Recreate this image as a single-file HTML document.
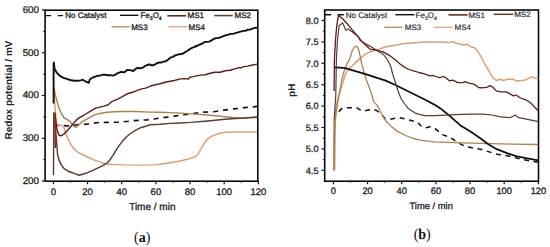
<!DOCTYPE html>
<html><head><meta charset="utf-8"><style>
html,body{margin:0;padding:0;background:#fff;width:550px;height:247px;overflow:hidden}
svg{display:block;text-rendering:geometricPrecision}
.t{stroke:#222;stroke-width:0.3px;paint-order:stroke}
.t2{stroke:#222;stroke-width:0.15px;paint-order:stroke}

</style></head><body>
<svg width="550" height="247" viewBox="0 0 550 247">
<defs>
<clipPath id="ca"><rect x="45" y="10.3" width="212.8" height="170.7"/></clipPath>
<clipPath id="cb"><rect x="324.8" y="10.3" width="213.8" height="170.7"/></clipPath>
</defs>
<rect width="550" height="247" fill="#fff"/>
<rect x="45.1" y="10.2" width="212.70" height="171.00" fill="none" stroke="#0a0a0a" stroke-width="1.6"/>
<line x1="41.9" y1="10.0" x2="45.1" y2="10.0" stroke="#111" stroke-width="1.2"/>
<line x1="41.9" y1="52.75" x2="45.1" y2="52.75" stroke="#111" stroke-width="1.2"/>
<line x1="41.9" y1="95.5" x2="45.1" y2="95.5" stroke="#111" stroke-width="1.2"/>
<line x1="41.9" y1="138.25" x2="45.1" y2="138.25" stroke="#111" stroke-width="1.2"/>
<line x1="41.9" y1="181.0" x2="45.1" y2="181.0" stroke="#111" stroke-width="1.2"/>
<line x1="43.300000000000004" y1="31.375" x2="45.1" y2="31.375" stroke="#111" stroke-width="1.1"/>
<line x1="43.300000000000004" y1="74.125" x2="45.1" y2="74.125" stroke="#111" stroke-width="1.1"/>
<line x1="43.300000000000004" y1="116.875" x2="45.1" y2="116.875" stroke="#111" stroke-width="1.1"/>
<line x1="43.300000000000004" y1="159.625" x2="45.1" y2="159.625" stroke="#111" stroke-width="1.1"/>
<line x1="53.4" y1="181.2" x2="53.4" y2="184.2" stroke="#111" stroke-width="1.2"/>
<line x1="87.56" y1="181.2" x2="87.56" y2="184.2" stroke="#111" stroke-width="1.2"/>
<line x1="121.72" y1="181.2" x2="121.72" y2="184.2" stroke="#111" stroke-width="1.2"/>
<line x1="155.88" y1="181.2" x2="155.88" y2="184.2" stroke="#111" stroke-width="1.2"/>
<line x1="190.04" y1="181.2" x2="190.04" y2="184.2" stroke="#111" stroke-width="1.2"/>
<line x1="224.2" y1="181.2" x2="224.2" y2="184.2" stroke="#111" stroke-width="1.2"/>
<line x1="258.36" y1="181.2" x2="258.36" y2="184.2" stroke="#111" stroke-width="1.2"/>
<line x1="70.47999999999999" y1="181.2" x2="70.47999999999999" y2="182.79999999999998" stroke="#222" stroke-width="0.9"/>
<line x1="104.64" y1="181.2" x2="104.64" y2="182.79999999999998" stroke="#222" stroke-width="0.9"/>
<line x1="138.79999999999998" y1="181.2" x2="138.79999999999998" y2="182.79999999999998" stroke="#222" stroke-width="0.9"/>
<line x1="172.96" y1="181.2" x2="172.96" y2="182.79999999999998" stroke="#222" stroke-width="0.9"/>
<line x1="207.12" y1="181.2" x2="207.12" y2="182.79999999999998" stroke="#222" stroke-width="0.9"/>
<line x1="241.28" y1="181.2" x2="241.28" y2="182.79999999999998" stroke="#222" stroke-width="0.9"/>
<rect x="324.7" y="10.0" width="213.80" height="171.20" fill="none" stroke="#0a0a0a" stroke-width="1.6"/>
<line x1="321.5" y1="20.5" x2="324.7" y2="20.5" stroke="#111" stroke-width="1.2"/>
<line x1="321.5" y1="41.9" x2="324.7" y2="41.9" stroke="#111" stroke-width="1.2"/>
<line x1="321.5" y1="63.3" x2="324.7" y2="63.3" stroke="#111" stroke-width="1.2"/>
<line x1="321.5" y1="84.69999999999999" x2="324.7" y2="84.69999999999999" stroke="#111" stroke-width="1.2"/>
<line x1="321.5" y1="106.1" x2="324.7" y2="106.1" stroke="#111" stroke-width="1.2"/>
<line x1="321.5" y1="127.5" x2="324.7" y2="127.5" stroke="#111" stroke-width="1.2"/>
<line x1="321.5" y1="148.89999999999998" x2="324.7" y2="148.89999999999998" stroke="#111" stroke-width="1.2"/>
<line x1="321.5" y1="170.29999999999998" x2="324.7" y2="170.29999999999998" stroke="#111" stroke-width="1.2"/>
<line x1="322.9" y1="31.2" x2="324.7" y2="31.2" stroke="#111" stroke-width="1.1"/>
<line x1="322.9" y1="52.599999999999994" x2="324.7" y2="52.599999999999994" stroke="#111" stroke-width="1.1"/>
<line x1="322.9" y1="74.0" x2="324.7" y2="74.0" stroke="#111" stroke-width="1.1"/>
<line x1="322.9" y1="95.39999999999999" x2="324.7" y2="95.39999999999999" stroke="#111" stroke-width="1.1"/>
<line x1="322.9" y1="116.8" x2="324.7" y2="116.8" stroke="#111" stroke-width="1.1"/>
<line x1="322.9" y1="138.2" x2="324.7" y2="138.2" stroke="#111" stroke-width="1.1"/>
<line x1="322.9" y1="159.6" x2="324.7" y2="159.6" stroke="#111" stroke-width="1.1"/>
<line x1="333.4" y1="181.2" x2="333.4" y2="184.2" stroke="#111" stroke-width="1.2"/>
<line x1="367.55999999999995" y1="181.2" x2="367.55999999999995" y2="184.2" stroke="#111" stroke-width="1.2"/>
<line x1="401.71999999999997" y1="181.2" x2="401.71999999999997" y2="184.2" stroke="#111" stroke-width="1.2"/>
<line x1="435.88" y1="181.2" x2="435.88" y2="184.2" stroke="#111" stroke-width="1.2"/>
<line x1="470.03999999999996" y1="181.2" x2="470.03999999999996" y2="184.2" stroke="#111" stroke-width="1.2"/>
<line x1="504.19999999999993" y1="181.2" x2="504.19999999999993" y2="184.2" stroke="#111" stroke-width="1.2"/>
<line x1="538.36" y1="181.2" x2="538.36" y2="184.2" stroke="#111" stroke-width="1.2"/>
<line x1="350.47999999999996" y1="181.2" x2="350.47999999999996" y2="182.79999999999998" stroke="#222" stroke-width="0.9"/>
<line x1="384.64" y1="181.2" x2="384.64" y2="182.79999999999998" stroke="#222" stroke-width="0.9"/>
<line x1="418.79999999999995" y1="181.2" x2="418.79999999999995" y2="182.79999999999998" stroke="#222" stroke-width="0.9"/>
<line x1="452.96" y1="181.2" x2="452.96" y2="182.79999999999998" stroke="#222" stroke-width="0.9"/>
<line x1="487.12" y1="181.2" x2="487.12" y2="182.79999999999998" stroke="#222" stroke-width="0.9"/>
<line x1="521.28" y1="181.2" x2="521.28" y2="182.79999999999998" stroke="#222" stroke-width="0.9"/>
<text x="39" y="12.9" class="t" font-family="Liberation Sans" font-size="9.8" text-anchor="end" fill="#222">600</text>
<text x="39" y="55.6" class="t" font-family="Liberation Sans" font-size="9.8" text-anchor="end" fill="#222">500</text>
<text x="39" y="98.4" class="t" font-family="Liberation Sans" font-size="9.8" text-anchor="end" fill="#222">400</text>
<text x="39" y="141.2" class="t" font-family="Liberation Sans" font-size="9.8" text-anchor="end" fill="#222">300</text>
<text x="39" y="183.9" class="t" font-family="Liberation Sans" font-size="9.8" text-anchor="end" fill="#222">200</text>
<text x="318.5" y="23.8" class="t" font-family="Liberation Sans" font-size="9.2" text-anchor="end" fill="#222">8.0</text>
<text x="318.5" y="45.2" class="t" font-family="Liberation Sans" font-size="9.2" text-anchor="end" fill="#222">7.5</text>
<text x="318.5" y="66.6" class="t" font-family="Liberation Sans" font-size="9.2" text-anchor="end" fill="#222">7.0</text>
<text x="318.5" y="88.0" class="t" font-family="Liberation Sans" font-size="9.2" text-anchor="end" fill="#222">6.5</text>
<text x="318.5" y="109.4" class="t" font-family="Liberation Sans" font-size="9.2" text-anchor="end" fill="#222">6.0</text>
<text x="318.5" y="130.8" class="t" font-family="Liberation Sans" font-size="9.2" text-anchor="end" fill="#222">5.5</text>
<text x="318.5" y="152.2" class="t" font-family="Liberation Sans" font-size="9.2" text-anchor="end" fill="#222">5.0</text>
<text x="318.5" y="173.6" class="t" font-family="Liberation Sans" font-size="9.2" text-anchor="end" fill="#222">4.5</text>
<text x="53.4" y="194.5" class="t" font-family="Liberation Sans" font-size="9.5" text-anchor="middle" fill="#222">0</text>
<text x="87.6" y="194.5" class="t" font-family="Liberation Sans" font-size="9.5" text-anchor="middle" fill="#222">20</text>
<text x="121.7" y="194.5" class="t" font-family="Liberation Sans" font-size="9.5" text-anchor="middle" fill="#222">40</text>
<text x="155.9" y="194.5" class="t" font-family="Liberation Sans" font-size="9.5" text-anchor="middle" fill="#222">60</text>
<text x="190.0" y="194.5" class="t" font-family="Liberation Sans" font-size="9.5" text-anchor="middle" fill="#222">80</text>
<text x="224.2" y="194.5" class="t" font-family="Liberation Sans" font-size="9.5" text-anchor="middle" fill="#222">100</text>
<text x="258.4" y="194.5" class="t" font-family="Liberation Sans" font-size="9.5" text-anchor="middle" fill="#222">120</text>
<text x="333.4" y="193.8" class="t" font-family="Liberation Sans" font-size="9.3" text-anchor="middle" fill="#222">0</text>
<text x="367.6" y="193.8" class="t" font-family="Liberation Sans" font-size="9.3" text-anchor="middle" fill="#222">20</text>
<text x="401.7" y="193.8" class="t" font-family="Liberation Sans" font-size="9.3" text-anchor="middle" fill="#222">40</text>
<text x="435.9" y="193.8" class="t" font-family="Liberation Sans" font-size="9.3" text-anchor="middle" fill="#222">60</text>
<text x="470.0" y="193.8" class="t" font-family="Liberation Sans" font-size="9.3" text-anchor="middle" fill="#222">80</text>
<text x="504.2" y="193.8" class="t" font-family="Liberation Sans" font-size="9.3" text-anchor="middle" fill="#222">100</text>
<text x="538.4" y="193.8" class="t" font-family="Liberation Sans" font-size="9.3" text-anchor="middle" fill="#222">120</text>
<text x="152.3" y="209.8" class="t" font-family="Liberation Sans" font-size="10" text-anchor="middle" fill="#222">Time / min</text>
<text x="431.2" y="209.2" class="t" font-family="Liberation Sans" font-size="9.4" text-anchor="middle" fill="#222">Time / min</text>
<text transform="translate(11.5,90) rotate(-90)" font-family="Liberation Sans" font-size="10" font-weight="bold" text-anchor="middle" fill="#222">Redox potential / mV</text>
<text transform="translate(295.2,90.3) rotate(-90)" font-family="Liberation Sans" font-size="10" font-weight="bold" text-anchor="middle" fill="#222">pH</text>
<text transform="translate(142.2,241.7) scale(1,1.08)" font-family="Liberation Serif" font-size="14" font-weight="bold" text-anchor="middle" fill="#111"><tspan font-weight="normal">(</tspan>a<tspan font-weight="normal">)</tspan></text>
<text transform="translate(422.2,239.1) scale(1,1.08)" font-family="Liberation Serif" font-size="14" font-weight="bold" text-anchor="middle" fill="#111"><tspan font-weight="normal">(</tspan>b<tspan font-weight="normal">)</tspan></text>
<g clip-path="url(#ca)">
<polyline points="54.0,125.5 60.0,125.3 68.2,126.0 77.4,124.7 86.5,124.2 96.6,122.7 106.0,122.4 118.0,122.2 128.0,121.3 134.0,120.6 146.6,119.9 155.6,118.7 165.2,117.4 174.8,116.1 183.9,114.8 194.1,113.3 203.7,112.1 214.0,111.7 224.0,110.1 234.4,108.9 244.8,107.6 257.3,106.4" fill="none" stroke="#111" stroke-width="1.6" stroke-linejoin="round" stroke-dasharray="5.1 4.9"/>
<polyline points="53.9,88.0 54.8,105.0 56.0,118.0 57.0,124.0 58.1,125.2 62.2,125.2 64.2,128.2 66.2,134.3 68.3,140.0 73.3,148.1 78.0,152.3 83.4,155.0 88.5,157.5 94.6,160.1 100.6,162.1 106.0,163.8 109.2,164.3 123.3,164.9 140.0,165.1 154.3,164.9 160.1,164.3 170.2,162.7 180.0,161.0 188.1,159.0 194.6,156.9 197.8,154.5 201.0,148.8 204.3,143.2 207.5,139.1 212.4,135.9 218.8,133.5 225.3,132.3 235.0,131.9 257.3,131.9" fill="none" stroke="#dc9e74" stroke-width="1.45" stroke-linejoin="round"/>
<polyline points="53.8,87.0 55.3,95.0 57.0,101.0 59.0,108.0 61.4,113.5 64.2,118.0 67.2,119.6 70.3,121.6 72.3,124.2 74.3,126.7 76.3,127.2 78.4,125.2 82.4,121.6 88.5,118.1 95.0,114.6 100.1,113.5 105.1,112.5 110.2,112.0 120.3,111.5 135.5,111.5 150.0,112.1 160.1,112.3 170.3,112.6 180.4,113.1 190.5,113.9 204.7,114.8 215.1,115.7 225.3,116.7 235.4,117.7 240.5,118.2 245.5,118.0 250.6,117.4 257.3,116.7" fill="none" stroke="#ab8250" stroke-width="1.45" stroke-linejoin="round"/>
<polyline points="53.5,175.3 53.8,113.0 55.2,125.0 56.5,140.0 57.6,155.0 59.1,160.1 61.1,164.6 64.2,168.7 68.2,171.2 72.3,172.7 76.3,174.3 79.4,175.3 82.4,174.3 87.5,172.7 92.5,170.7 97.6,168.2 102.4,165.8 107.7,162.5 110.5,159.0 113.4,154.7 117.7,147.6 121.9,141.9 126.2,137.0 131.8,132.5 135.5,130.3 140.6,127.7 145.7,126.2 150.0,124.8 160.1,124.3 170.3,123.4 180.4,123.0 190.5,122.4 204.7,121.2 215.1,120.3 225.3,119.3 235.4,118.5 240.5,118.2 257.3,117.2" fill="none" stroke="#5a3c30" stroke-width="1.45" stroke-linejoin="round"/>
<polyline points="55.4,148.0 55.0,113.0 55.7,121.0 57.1,130.2 59.1,135.3 61.1,135.8 64.2,133.8 67.2,130.7 70.3,127.2 73.3,123.7 76.3,120.1 79.4,117.6 83.4,115.5 87.5,113.0 89.6,111.7 95.7,108.1 100.0,107.1 104.0,106.1 108.2,104.8 112.2,101.3 117.3,99.3 122.4,96.7 127.4,93.7 132.5,92.2 135.5,91.1 140.6,89.1 145.7,88.1 150.0,86.3 155.1,84.7 160.1,83.7 165.2,82.2 170.3,81.2 175.3,80.2 180.4,78.9 185.5,78.6 188.5,79.1 189.5,77.3 193.6,76.6 197.6,75.6 200.7,75.1 205.0,74.7 210.1,73.2 215.1,72.2 220.2,72.2 225.3,70.7 230.3,70.2 235.4,68.6 239.4,67.6 240.5,68.1 243.5,66.6 247.6,66.1 251.6,65.3 257.2,64.1" fill="none" stroke="#641a1e" stroke-width="1.45" stroke-linejoin="round"/>
<polyline points="53.6,103.5 53.6,64.0 53.9,62.5 54.6,69.1 56.1,71.6 58.1,74.2 61.1,76.7 64.2,78.2 66.1,78.7 70.1,80.0 74.2,80.7 78.2,80.7 80.7,80.4 82.8,79.7 85.3,81.3 88.8,82.8 89.9,79.2 92.4,77.7 95.4,76.6 97.5,75.8 100.0,75.6 102.5,74.8 105.0,74.7 107.6,75.3 110.2,75.1 112.7,75.5 114.7,75.1 116.7,73.7 118.0,73.1 121.1,71.8 124.1,72.4 127.2,69.9 130.2,70.1 133.2,71.0 135.2,69.2 137.3,67.9 139.3,68.2 141.3,68.0 143.4,67.3 145.4,65.8 147.4,65.0 149.4,64.3 151.4,65.3 153.5,65.2 155.6,64.1 157.6,62.9 159.6,62.5 161.6,62.5 163.6,61.5 165.7,61.4 168.2,59.5 170.3,57.7 172.8,56.9 175.3,55.4 177.9,54.7 180.4,54.0 182.4,53.9 184.4,52.6 187.5,50.8 189.5,49.3 191.5,48.2 194.1,47.0 196.6,46.0 198.6,45.2 200.7,44.2 202.7,43.3 204.7,42.0 206.9,41.9 209.1,41.6 211.1,40.7 213.1,39.4 215.6,38.1 218.2,38.0 220.2,37.4 222.2,36.6 225.3,35.3 227.8,34.9 230.3,33.9 232.9,33.9 235.4,33.2 237.9,32.4 240.5,31.7 243.5,30.9 245.6,30.8 247.6,29.7 250.1,29.6 252.6,28.5 254.9,27.8 257.2,27.6" fill="none" stroke="#111" stroke-width="1.9" stroke-linejoin="round"/>
<polyline points="55.2,145.0 54.9,113.5" fill="none" stroke="#9a3a2c" stroke-width="1.2" stroke-linejoin="round"/>
</g>
<g clip-path="url(#cb)">
<polyline points="338.8,111.8 339.7,110.6 341.8,108.6 347.7,107.7 352.0,107.7 357.2,107.9 359.4,109.6 363.5,111.2 367.0,110.2 373.1,109.2 377.1,110.8 382.2,115.2 385.2,118.8 391.3,118.9 399.4,117.7 405.5,118.9 410.1,120.2 414.5,121.5 417.2,121.8 421.3,126.2 425.3,127.8 430.4,126.7 435.0,128.6 439.5,132.3 442.1,134.5 450.2,137.5 456.3,141.6 464.4,146.1 472.0,147.8 480.6,149.2 496.8,154.2 511.0,156.3 521.1,159.3 538.3,162.3" fill="none" stroke="#111" stroke-width="1.5" stroke-linejoin="round" stroke-dasharray="5 4.6"/>
<polyline points="334.0,170.2 334.2,119.0" fill="none" stroke="#5a3c30" stroke-width="1.2" stroke-linejoin="round"/>
<polyline points="334.8,170.0 335.1,140.0 335.6,110.0 337.5,100.0 340.0,92.0 343.0,82.0 345.0,75.5 346.7,71.3 349.7,68.2 352.2,65.8 355.8,62.4 359.4,59.1 364.3,54.9 370.0,51.8 374.1,50.5 378.9,49.1 385.1,47.0 390.3,45.9 395.3,45.2 400.4,44.3 405.4,43.6 410.5,43.1 415.5,42.7 420.5,42.3 425.7,42.1 430.0,42.1 440.1,41.9 449.3,42.6 452.8,41.6 456.3,43.6 460.4,44.1 463.4,45.2 466.5,44.1 470.5,46.7 474.6,47.7 477.6,51.2 480.7,55.8 483.0,60.5 486.6,67.2 490.3,73.2 492.7,77.5 496.4,80.5 500.0,79.3 503.7,80.5 507.3,79.3 513.4,79.3 517.0,81.1 521.9,80.5 525.5,79.9 529.2,78.1 531.6,76.9 536.5,78.3 538.5,78.5" fill="none" stroke="#dc9e74" stroke-width="1.5" stroke-linejoin="round"/>
<polyline points="333.7,170.4 334.2,140.0 335.2,120.0 336.7,109.2 339.0,95.0 341.8,80.0 343.7,72.3 345.3,68.2 346.8,64.2 349.3,60.1 351.0,55.0 352.4,50.0 354.5,47.0 356.4,46.2 358.2,48.0 360.0,55.5 362.0,65.2 364.0,72.3 366.5,80.6 369.6,88.2 371.8,95.0 373.6,101.6 377.1,105.1 381.2,113.2 385.2,120.3 391.3,126.4 397.4,131.4 405.5,135.5 413.6,138.5 420.1,140.1 434.3,141.9 470.5,143.1 511.0,144.1 538.3,144.5" fill="none" stroke="#ab8250" stroke-width="1.3" stroke-linejoin="round"/>
<polyline points="334.4,67.5 340.2,67.6 345.3,68.2 350.3,69.6 355.4,71.1 360.5,72.6 365.5,74.2 375.6,77.3 385.7,80.6 395.9,85.2 406.0,90.2 416.1,95.3 426.2,100.3 434.3,104.6 440.4,108.4 450.2,116.3 460.4,125.4 470.5,131.5 480.6,138.5 485.0,141.8 488.7,144.4 496.8,149.2 506.9,153.2 517.0,156.3 527.2,158.3 538.3,160.3" fill="none" stroke="#111" stroke-width="1.8" stroke-linejoin="round"/>
<polyline points="334.2,119.0 335.8,95.0 336.4,60.0 337.3,42.0 339.1,25.4 342.7,22.9 345.8,30.2 348.2,29.0 352.4,32.0 357.3,35.7 358.5,37.5 360.3,40.6 365.0,43.5 370.0,46.1 376.1,50.1 383.2,54.2 387.2,59.3 390.5,66.0 393.0,75.0 395.5,83.0 398.0,91.0 401.0,98.5 404.3,103.5 408.3,108.6 411.6,110.8 415.2,113.1 420.0,114.6 425.3,115.6 435.5,115.6 445.6,115.1 454.7,114.6 470.5,114.2 483.0,114.1 491.9,115.0 500.8,116.8 509.7,117.7 512.5,116.5 515.1,115.0 518.7,117.7 527.6,119.4 538.3,121.7" fill="none" stroke="#5a3c30" stroke-width="1.2" stroke-linejoin="round"/>
<polyline points="334.1,91.0 334.4,60.0 335.5,40.0 336.8,25.0 338.5,15.4 342.7,18.7 347.6,24.2 352.4,30.2 357.3,35.7 362.2,41.8 366.0,45.5 370.0,49.1 376.1,50.1 383.1,51.9 390.2,55.9 395.3,59.8 398.3,62.6 400.4,64.3 404.3,67.1 409.0,69.5 414.4,71.1 419.0,72.5 424.5,73.8 430.0,75.9 432.4,75.3 436.1,76.5 439.7,77.7 443.3,76.5 445.8,77.7 449.4,80.8 452.5,80.2 455.5,81.4 457.9,82.6 462.8,82.6 465.2,81.7 468.8,83.2 473.1,83.8 476.1,85.6 478.5,87.5 482.2,87.8 486.6,87.3 490.1,85.6 492.8,87.3 496.4,90.9 500.8,91.8 506.2,91.8 509.7,93.6 513.3,95.9 516.0,95.0 520.4,98.0 525.8,99.8 530.2,102.5 533.8,106.1 538.3,111.0" fill="none" stroke="#641a1e" stroke-width="1.3" stroke-linejoin="round"/>
</g>
<line x1="46" y1="15.6" x2="63.2" y2="15.6" stroke="#111" stroke-width="1.4" stroke-dasharray="5.2 6.6"/>
<text x="65.2" y="18.4" class="t" font-family="Liberation Sans" font-size="8" fill="#222">No Catalyst</text>
<line x1="119.9" y1="15.3" x2="138.4" y2="15.3" stroke="#111" stroke-width="1.4"/>
<text x="140.4" y="18.2" class="t" font-family="Liberation Sans" font-size="8" fill="#222">Fe<tspan font-size="5.2" dy="2.2">3</tspan><tspan dy="-2.2">O</tspan><tspan font-size="5.2" dy="2.2">4</tspan></text>
<line x1="167.4" y1="15.8" x2="186.2" y2="15.8" stroke="#641a1e" stroke-width="1.5"/>
<text x="187.6" y="18.3" class="t" font-family="Liberation Sans" font-size="8" fill="#222">MS1</text>
<line x1="214.3" y1="15.6" x2="232.8" y2="15.6" stroke="#5a3c30" stroke-width="1.5"/>
<text x="234.6" y="18.0" class="t" font-family="Liberation Sans" font-size="8" fill="#222">MS2</text>
<line x1="111.4" y1="26.8" x2="129.8" y2="26.8" stroke="#ab8250" stroke-width="1.2"/>
<text x="131.2" y="29.5" class="t" font-family="Liberation Sans" font-size="8" fill="#222">MS3</text>
<line x1="168.5" y1="26.8" x2="187.8" y2="26.8" stroke="#dc9e74" stroke-width="1.2"/>
<text x="188.6" y="29.6" class="t" font-family="Liberation Sans" font-size="8" fill="#222">MS4</text>
<line x1="324.7" y1="14.8" x2="343.8" y2="14.8" stroke="#111" stroke-width="1.4" stroke-dasharray="6.4 6.4"/>
<text x="345.8" y="17.6" class="t2" font-family="Liberation Sans" font-size="8" fill="#222">No Catalyst</text>
<line x1="395.3" y1="14.7" x2="414.4" y2="14.7" stroke="#111" stroke-width="1.4"/>
<text x="415.6" y="17.6" class="t2" font-family="Liberation Sans" font-size="8" fill="#222">Fe<tspan font-size="5.2" dy="2.2">3</tspan><tspan dy="-2.2">O</tspan><tspan font-size="5.2" dy="2.2">4</tspan></text>
<line x1="448.5" y1="14.9" x2="467.6" y2="14.9" stroke="#641a1e" stroke-width="1.5"/>
<text x="468.4" y="17.6" class="t2" font-family="Liberation Sans" font-size="8" fill="#222">MS1</text>
<line x1="493.7" y1="14.3" x2="513.4" y2="14.3" stroke="#5a3c30" stroke-width="1.5"/>
<text x="514.2" y="17.0" class="t2" font-family="Liberation Sans" font-size="8" fill="#222">MS2</text>
<line x1="384.4" y1="27.3" x2="402.4" y2="27.3" stroke="#ab8250" stroke-width="1.2"/>
<text x="404.8" y="30.0" class="t2" font-family="Liberation Sans" font-size="8" fill="#222">MS3</text>
<line x1="433.8" y1="27.3" x2="452.9" y2="27.3" stroke="#dc9e74" stroke-width="1.2"/>
<text x="454.6" y="30.0" class="t2" font-family="Liberation Sans" font-size="8" fill="#222">MS4</text>
</svg>
</body></html>
